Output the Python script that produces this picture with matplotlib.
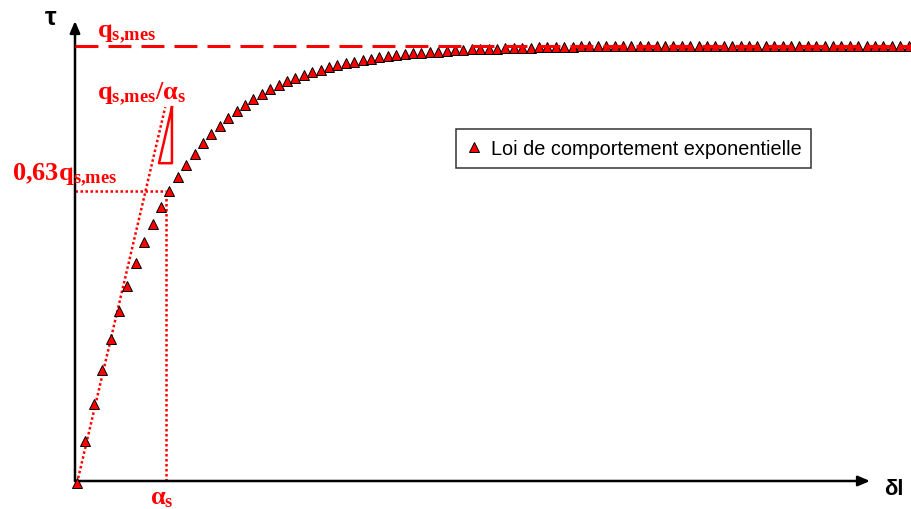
import numpy as np
import matplotlib.pyplot as plt

plt.rcParams['mathtext.fontset'] = 'custom'
plt.rcParams['mathtext.rm'] = 'Liberation Serif:bold'
plt.rcParams['mathtext.it'] = 'Liberation Serif:bold'
plt.rcParams['mathtext.bf'] = 'Liberation Serif:bold'

# normalised shear stress tau / q_s,mes, one point per step
tau = [0.000, 0.095, 0.181, 0.259, 0.330, 0.393, 0.451, 0.503, 0.551, 0.593,
       0.632, 0.667, 0.699, 0.727, 0.753, 0.777, 0.798, 0.817, 0.835, 0.850,
       0.865, 0.878, 0.889, 0.900, 0.909, 0.918, 0.926, 0.933, 0.939, 0.945,
       0.950, 0.955, 0.959, 0.963, 0.967, 0.970, 0.973, 0.975, 0.978, 0.980,
       0.982, 0.983, 0.985, 0.986, 0.988, 0.989, 0.990, 0.991, 0.992, 0.993,
       0.993, 0.994, 0.994, 0.995, 0.995, 0.996, 0.996, 0.997, 0.997, 0.997,
       0.998, 0.998, 0.998, 0.998, 0.998, 0.999, 0.999, 0.999, 0.999, 0.999,
       0.999, 0.999, 0.999, 0.999, 0.999, 1.000, 1.000, 1.000, 1.000, 1.000,
       1.000, 1.000, 1.000, 1.000, 1.000, 1.000, 1.000, 1.000, 1.000, 1.000,
       1.000, 1.000, 1.000, 1.000, 1.000, 1.000, 1.000, 1.000, 1.000, 1.000]
dl = np.arange(len(tau))

q_mes = 1.0          # plateau
alpha_s = 10.6       # slip value at 0.63 q
y_063 = 0.667
tangent_x = [0, 10.5]
tangent_y = [0, 0.859]
slope_x = [11.3, 9.76, 11.3, 11.3]
slope_y = [0.859, 0.731, 0.731, 0.859]

RED = '#ff0000'

fig = plt.figure(figsize=(9.11, 5.10), dpi=100)
ax = fig.add_axes([75 / 911, 28 / 510, 795 / 911, 460 / 510])
ax.set_xlim(-0.24, 94.4)
ax.set_ylim(0.0046, 1.056)
ax.axis('off')

# axes with arrow heads
arrow = dict(arrowstyle='-|>,head_length=0.7,head_width=0.3', lw=1.8,
             color='black', shrinkA=0, shrinkB=0, mutation_scale=10)
ax.annotate('', xy=(1, 0), xytext=(0, 0), xycoords='axes fraction', arrowprops=arrow)
ax.annotate('', xy=(0, 1), xytext=(0, 0), xycoords='axes fraction', arrowprops=arrow)

ax.plot(dl, tau, '^', ms=7.6, mfc=RED, mec='black', mew=0.7, clip_on=False,
        zorder=3, label='Loi de comportement exponentielle')

ax.plot([-0.24, 99.2], [q_mes, q_mes], color=RED, lw=2.2,
        linestyle=(0, (7.5, 3.3)), clip_on=False, zorder=4)
ax.plot(tangent_x, tangent_y, color=RED, lw=1.8, linestyle=(0, (1, 1)), zorder=2)
ax.plot([-0.24, alpha_s], [y_063, y_063], color=RED, lw=1.8, linestyle=(0, (1, 1)), zorder=2)
ax.plot([alpha_s, alpha_s], [0.0046, y_063], color=RED, lw=1.8, linestyle=(0, (1, 1)), zorder=2)
ax.plot(slope_x, slope_y, color=RED, lw=1.8, zorder=2)

def px(x, y):
    return x / 911, 1 - y / 510

fig.text(*px(97, 38), r'$\mathrm{q_{s{,}mes}}$', color=RED, fontsize=19, va='baseline')
fig.text(*px(97, 100), r'$\mathrm{q_{s{,}mes}/\alpha_{s}}$', color=RED, fontsize=19, va='baseline')
fig.text(*px(12, 181), r'$\mathrm{0{,}63q_{s{,}mes}}$', color=RED, fontsize=19, va='baseline')
fig.text(*px(150, 504), r'$\mathrm{\alpha_{s}}$', color=RED, fontsize=19, va='baseline')
fig.text(*px(45, 25), 'τ', color='black', fontsize=19, fontweight='bold',
         family='Liberation Sans', va='baseline')
fig.text(*px(884, 495), 'δl', color='black', fontsize=16, fontweight='bold',
         family='Liberation Sans', va='baseline')

leg = ax.legend(loc='upper left', bbox_to_anchor=px(456, 130), bbox_transform=fig.transFigure,
                borderaxespad=0, fancybox=False, shadow=False, markerscale=0.95,
                handlelength=0.8, handletextpad=0.45, borderpad=0.5,
                prop={'family': 'Liberation Sans', 'size': 14.3})
leg.get_frame().set_edgecolor('black')
leg.get_frame().set_linewidth(1.1)

fig.savefig('out.png', dpi=100)
